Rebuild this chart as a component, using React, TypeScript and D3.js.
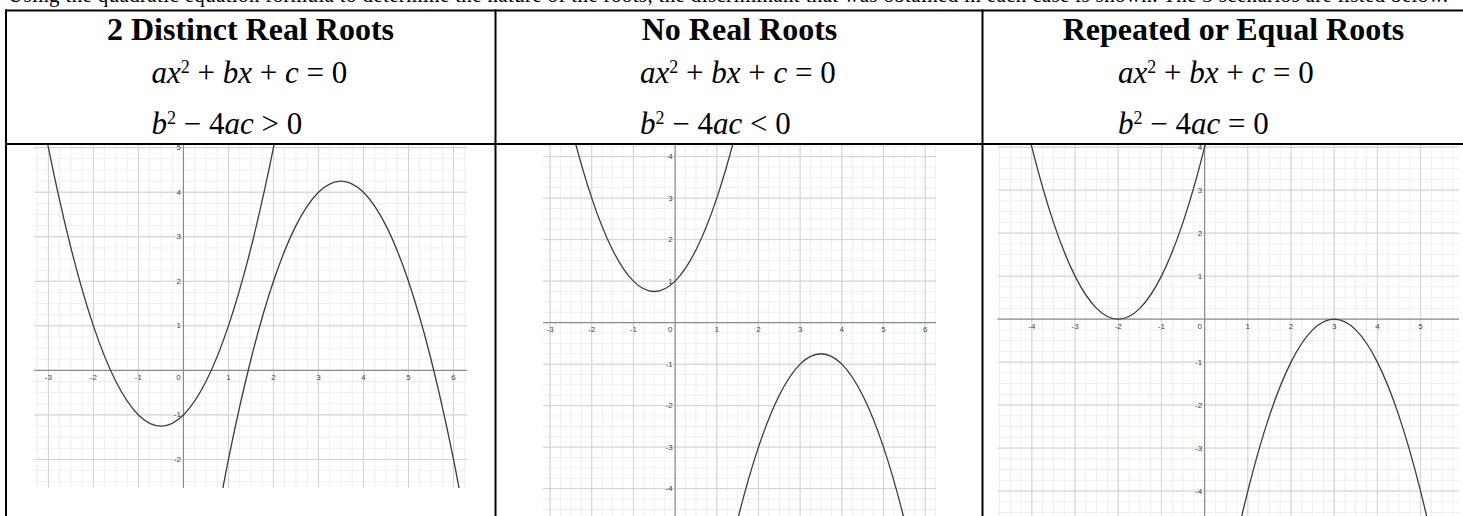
import React from "react";
import * as d3 from "d3";

// ---------- data ----------
const introText =
  "Using the quadratic equation formula to determine the nature of the roots, the discriminant that was obtained in each case is shown. The 3 scenarios are listed below.";
const panelTitles = ["2 Distinct Real Roots", "No Real Roots", "Repeated or Equal Roots"];
const discriminantSigns = [">", "<", "="];

const xDomains: [number, number][] = [[-3.32, 6.3], [-3.17, 6.26], [-4.8, 5.89]];
const yDomains: [number, number][] = [[-2.64, 5.06], [-4.66, 4.28], [-4.58, 4.05]];

const xTickLabels = [
  [-3, -2, -1, 0, 1, 2, 3, 4, 5, 6],
  [-3, -2, -1, 0, 1, 2, 3, 4, 5, 6],
  [-4, -3, -2, -1, 0, 1, 2, 3, 4, 5],
];
const yTickLabels = [
  [-2, -1, 1, 2, 3, 4, 5],
  [-4, -3, -2, -1, 1, 2, 3, 4],
  [-4, -3, -2, -1, 1, 2, 3, 4],
];

// points read along each parabola  [x, y]
const distinctUpward: [number, number][] = [
  [-3.5, 7.75], [-3, 5], [-2.5, 2.75], [-2, 1], [-1.5, -0.25], [-1, -1], [-0.5, -1.25],
  [0, -1], [0.5, -0.25], [1, 1], [1.5, 2.75], [2, 5], [2.5, 7.75],
];
const distinctDownward: [number, number][] = [
  [0.5, -4.75], [1, -2], [1.5, 0.25], [2, 2], [2.5, 3.25], [3, 4], [3.5, 4.25],
  [4, 4], [4.5, 3.25], [5, 2], [5.5, 0.25], [6, -2], [6.5, -4.75],
];
const noRootsUpward: [number, number][] = [
  [-3, 7], [-2.5, 4.75], [-2, 3], [-1.5, 1.75], [-1, 1], [-0.5, 0.75],
  [0, 1], [0.5, 1.75], [1, 3], [1.5, 4.75], [2, 7],
];
const noRootsDownward: [number, number][] = [
  [1, -7], [1.5, -4.75], [2, -3], [2.5, -1.75], [3, -1], [3.5, -0.75],
  [4, -1], [4.5, -1.75], [5, -3], [5.5, -4.75], [6, -7],
];
const equalUpward: [number, number][] = [
  [-5, 9], [-4.5, 6.25], [-4, 4], [-3.5, 2.25], [-3, 1], [-2.5, 0.25], [-2, 0],
  [-1.5, 0.25], [-1, 1], [-0.5, 2.25], [0, 4], [0.5, 6.25], [1, 9],
];
const equalDownward: [number, number][] = [
  [0, -9], [0.5, -6.25], [1, -4], [1.5, -2.25], [2, -1], [2.5, -0.25], [3, 0],
  [3.5, -0.25], [4, -1], [4.5, -2.25], [5, -4], [5.5, -6.25], [6, -9],
];
const panelCurves = [
  [distinctUpward, distinctDownward],
  [noRootsUpward, noRootsDownward],
  [equalUpward, equalDownward],
];

// ---------- layout ----------
const W = 1463;
const H = 516;
const columnLefts = [6, 495.5, 982.5];
const titleCenters = [250.5, 739.5, 1233.5];
const equationStarts = [151.5, 640, 1118];
const panelBoxes = [
  { left: 34, right: 467, top: 145, bottom: 488 },
  { left: 543, right: 936, top: 145, bottom: 516 },
  { left: 997.3, right: 1459, top: 145, bottom: 516 },
];

const serif = "'Liberation Serif', 'Times New Roman', serif";
const sans = "'Liberation Sans', Arial, sans-serif";

function Equation({ x, y, sign }: { x: number; y: number; sign?: string }) {
  const it = { fontStyle: "italic" as const };
  if (sign === undefined) {
    return (
      <text x={x} y={y} fontFamily={serif} fontSize={31} fill="#000" xmlSpace="preserve">
        <tspan {...it}>ax</tspan>
        <tspan fontSize={18} dy={-10}>2</tspan>
        <tspan dy={10}>{" + "}</tspan>
        <tspan {...it}>bx</tspan>
        <tspan>{" + "}</tspan>
        <tspan {...it}>c</tspan>
        <tspan>{" = 0"}</tspan>
      </text>
    );
  }
  return (
    <text x={x} y={y} fontFamily={serif} fontSize={31} fill="#000" xmlSpace="preserve">
      <tspan {...it}>b</tspan>
      <tspan fontSize={18} dy={-10}>2</tspan>
      <tspan dy={10}>{" \u2212 4"}</tspan>
      <tspan {...it}>ac</tspan>
      <tspan>{` ${sign} 0`}</tspan>
    </text>
  );
}

function Panel({ idx }: { idx: number }) {
  const box = panelBoxes[idx];
  const x = d3.scaleLinear().domain(xDomains[idx]).range([box.left, box.right]);
  const y = d3.scaleLinear().domain(yDomains[idx]).range([box.bottom, box.top]);
  const [x0, x1] = xDomains[idx];
  const [y0, y1] = yDomains[idx];
  const minorX = d3.range(Math.ceil(x0 * 4), Math.floor(x1 * 4) + 1).map((k) => k / 4);
  const minorY = d3.range(Math.ceil(y0 * 4), Math.floor(y1 * 4) + 1).map((k) => k / 4);
  const majorX = minorX.filter((v) => Number.isInteger(v) && v !== 0);
  const majorY = minorY.filter((v) => Number.isInteger(v) && v !== 0);
  const line = d3
    .line<[number, number]>()
    .x((d) => x(d[0]))
    .y((d) => y(d[1]))
    .curve(d3.curveMonotoneX);
  const clipId = `clip-${idx}`;
  const ax = x(0);
  const ay = y(0);
  return (
    <g>
      <defs>
        <clipPath id={clipId}>
          <rect x={box.left} y={box.top} width={box.right - box.left} height={box.bottom - box.top} />
        </clipPath>
      </defs>
      <g clipPath={`url(#${clipId})`}>
        <rect x={box.left} y={box.top} width={box.right - box.left} height={box.bottom - box.top} fill="#fff" />
        {minorX.map((v) => (
          <line key={`mx${v}`} x1={x(v)} x2={x(v)} y1={box.top} y2={box.bottom} stroke="#eeeeee" strokeWidth={1} />
        ))}
        {minorY.map((v) => (
          <line key={`my${v}`} x1={box.left} x2={box.right} y1={y(v)} y2={y(v)} stroke="#eeeeee" strokeWidth={1} />
        ))}
        {majorX.map((v) => (
          <line key={`jx${v}`} x1={x(v)} x2={x(v)} y1={box.top} y2={box.bottom} stroke="#d2d2d2" strokeWidth={1} />
        ))}
        {majorY.map((v) => (
          <line key={`jy${v}`} x1={box.left} x2={box.right} y1={y(v)} y2={y(v)} stroke="#d2d2d2" strokeWidth={1} />
        ))}
        <line x1={ax} x2={ax} y1={box.top} y2={box.bottom} stroke="#8a8a8a" strokeWidth={1.2} />
        <line x1={box.left} x2={box.right} y1={ay} y2={ay} stroke="#8a8a8a" strokeWidth={1.2} />
        {xTickLabels[idx].map((v) => (
          <text
            key={`lx${v}`}
            x={v === 0 ? ax - 5 : x(v)}
            y={ay + 7}
            textAnchor="middle"
            dominantBaseline="central"
            fontFamily={sans}
            fontSize={8}
            fill="#444"
          >
            {v < 0 ? `-${Math.abs(v)}` : `${v}`}
          </text>
        ))}
        {yTickLabels[idx].map((v) => (
          <text
            key={`ly${v}`}
            x={ax - 2.5}
            y={y(v)}
            textAnchor="end"
            dominantBaseline="central"
            fontFamily={sans}
            fontSize={8}
            fill="#444"
          >
            {v < 0 ? `-${Math.abs(v)}` : `${v}`}
          </text>
        ))}
        {panelCurves[idx].map((pts, i) => (
          <path key={`c${i}`} d={line(pts) || ""} fill="none" stroke="#3c3c3c" strokeWidth={1.3} />
        ))}
      </g>
    </g>
  );
}

export default function App() {
  return (
    <svg
      width={W}
      height={H}
      viewBox={`0 0 ${W} ${H}`}
      style={{ position: "absolute", left: 0, top: 0, background: "#fff" }}
    >
      <rect x={0} y={0} width={W} height={H} fill="#fff" />
      <text x={8} y={2} fontFamily={serif} fontSize={21} fill="#000" textLength={1440} lengthAdjust="spacing">
        {introText}
      </text>
      {panelTitles.map((t, i) => (
        <g key={t}>
          <text
            x={titleCenters[i]}
            y={40}
            textAnchor="middle"
            fontFamily={serif}
            fontWeight="bold"
            fontSize={32}
            fill="#000"
          >
            {t}
          </text>
          <Equation x={equationStarts[i]} y={82.5} />
          <Equation x={equationStarts[i]} y={134} sign={discriminantSigns[i]} />
        </g>
      ))}
      {panelTitles.map((_, i) => (
        <Panel key={i} idx={i} />
      ))}
      {/* table rules */}
      <line x1={5} x2={W} y1={10.5} y2={10.5} stroke="#000" strokeWidth={2} />
      <line x1={5} x2={W} y1={144} y2={144} stroke="#000" strokeWidth={2.2} />
      {columnLefts.map((cx) => (
        <line key={cx} x1={cx} x2={cx} y1={9.5} y2={H} stroke="#000" strokeWidth={2} />
      ))}
    </svg>
  );
}
